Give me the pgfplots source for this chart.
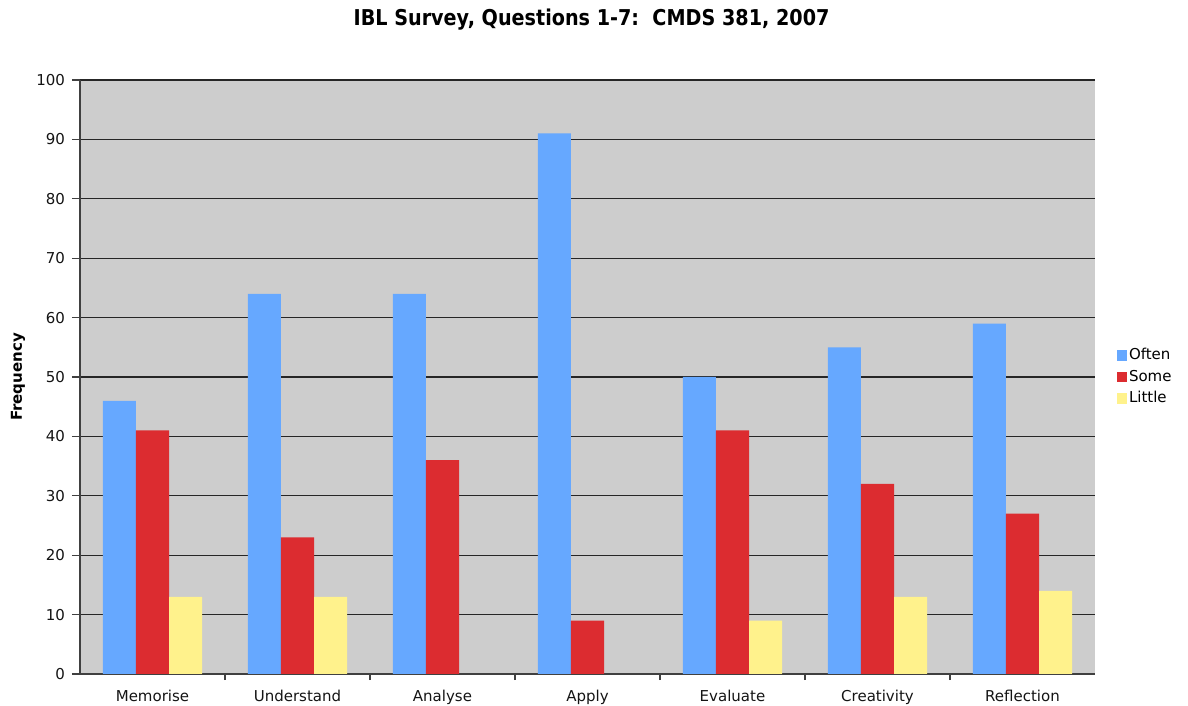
\documentclass[border=0pt]{standalone}
\usepackage{fontspec}
\setmainfont{DejaVu Sans}
\newfontfamily\titlefont[FakeStretch=0.88]{DejaVu Sans}
\usepackage{pgfplots}
\pgfplotsset{compat=1.18}

\definecolor{often}{RGB}{102,168,255}
\definecolor{some}{RGB}{220,44,48}
\definecolor{little}{RGB}{255,242,140}
\definecolor{plotbg}{RGB}{205,205,205}

\begin{document}
\begin{tikzpicture}
\useasboundingbox (-40pt,-16pt) rectangle (554pt,337pt);
\begin{axis}[
  at={(0,0)}, anchor=south west,
  scale only axis, width=507.5pt, height=297pt,
  xmin=-0.5, xmax=6.5, ymin=0, ymax=100,
  ytick={0,10,...,100},
  xtick={0,...,6},
  xticklabels={Memorise,Understand,Analyse,Apply,Evaluate,Creativity,Reflection},
  minor x tick num=1,
  axis lines*=left,
  axis line style={black!75, line width=0.7pt},
  axis background/.style={fill=plotbg},
  tick align=outside,
  major tick length=4pt,
  minor tick length=3pt,
  major x tick style={draw=none},
  tick style={black!75, line width=0.6pt},
  ymajorgrids,
  major grid style={black!85, line width=0.6pt},
  /pgf/number format/assume math mode=true,
  ticklabel style={font=\fontsize{7.5}{9}\selectfont, text=black!92},
  xticklabel style={anchor=base, yshift=-9.5pt},
  ylabel={Frequency},
  every axis y label/.style={at={(axis description cs:-0.0611,0.5)}, rotate=90, anchor=center,
    font=\bfseries\fontsize{7.5}{9}\selectfont},
  title={\titlefont\bfseries IBL Survey, Questions 1-7:\ \ CMDS 381, 2007},
  every axis title shift=0pt,
  title style={font=\fontsize{10.9}{12}\selectfont, at={(axis description cs:0.504,1.101)}, anchor=center},
  ybar, bar width=0.228,
  legend style={draw=none, fill=none, at={(1.015,0.5)}, anchor=west,
    font=\fontsize{7.5}{9}\selectfont, row sep=1.6pt,
    nodes={inner sep=1pt}},
  legend cell align=left,
  legend image code/.code={\fill[#1] (0pt,-2.6pt) rectangle (5.2pt,2.6pt);},
]
\addplot[fill=often, draw=none, bar shift=-0.228] coordinates
  {(0,46) (1,64) (2,64) (3,91) (4,50) (5,55) (6,59)};
\addplot[fill=some, draw=none, bar shift=0] coordinates
  {(0,41) (1,23) (2,36) (3,9) (4,41) (5,32) (6,27)};
\addplot[fill=little, draw=none, bar shift=0.228] coordinates
  {(0,13) (1,13) (4,9) (5,13) (6,14)};
\legend{Often,Some,Little}
\end{axis}
\end{tikzpicture}
\end{document}
